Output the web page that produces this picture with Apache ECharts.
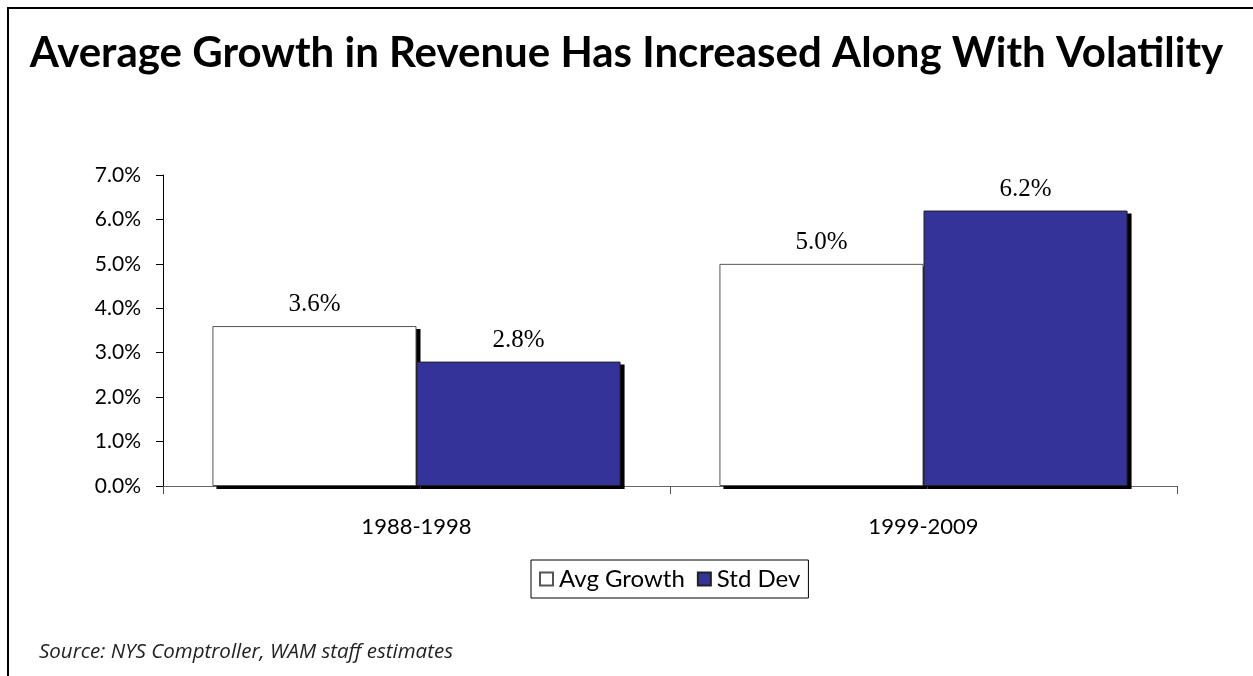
<!DOCTYPE html>
<html>
<head>
<meta charset="utf-8">
<script src="https://cdn.jsdelivr.net/npm/echarts@6/dist/echarts.min.js"></script>
<style>
  html, body { margin: 0; padding: 0; background: #fff; }
  #frame {
    position: absolute; left: 7px; top: 7px; width: 1246px; height: 669px;
    border-left: 2px solid #000; border-top: 2px solid #000; box-sizing: border-box;
  }
  #chart { position: absolute; left: 0; top: 0; width: 1253px; height: 676px; }
</style>
</head>
<body>
<div id="frame"></div>
<div id="chart"></div>
<script>
// Periods compared
const periods = ['1988-1998', '1999-2009'];
// Average annual revenue growth (%) per period
const avgGrowth = [3.6, 5.0];
// Standard deviation of growth (%) per period
const stdDev = [2.8, 6.2];
// Y axis range (%)
const yMin = 0, yMax = 7, yStep = 1;

const seriesNames = ['Avg Growth', 'Std Dev'];
const seriesValues = [avgGrowth, stdDev];
const categoryGap = 0.195;

const pct = v => v.toFixed(1) + '%';

// Drop-shadow rectangles placed behind each bar: [category, value, slot]
const shadowData = [];
seriesValues.forEach((vals, slot) => {
  vals.forEach((v, i) => shadowData.push([i, v, slot]));
});

const chart = echarts.init(document.getElementById('chart'), null, { renderer: 'canvas' });

const labelStyle = {
  show: true, position: 'top', distance: 9,
  formatter: p => pct(p.value),
  fontFamily: '"Liberation Serif"', fontSize: 25, color: '#000'
};

chart.setOption({
  backgroundColor: 'transparent',
  animation: false,
  title: {
    text: 'Average Growth in Revenue Has Increased Along With Volatility',
    left: 'center',
    top: 27,
    textStyle: { fontFamily: 'Lato', fontWeight: 'bold', fontSize: 42, color: '#000' }
  },
  graphic: [{
    type: 'text',
    left: 39,
    top: 642,
    style: {
      text: 'Source: NYS Comptroller, WAM staff estimates',
      font: 'italic 20.5px "Open Sans"',
      fill: '#222'
    }
  }],
  legend: {
    left: 531,
    top: 560,
    itemWidth: 13,
    itemHeight: 13,
    itemGap: 12,
    padding: [7, 8, 7, 8],
    borderColor: '#000',
    borderWidth: 1,
    borderRadius: 0,
    icon: 'rect',
    textStyle: { fontFamily: 'Lato', fontSize: 24, color: '#000', padding: [0, 0, 0, 1] },
    data: seriesNames
  },
  grid: { left: 163, right: 76, top: 175, bottom: 190, containLabel: false },
  xAxis: {
    type: 'category',
    data: periods,
    axisLine: { lineStyle: { color: '#666', width: 1 } },
    axisTick: { show: true, length: 8, lineStyle: { color: '#555' } },
    axisLabel: { margin: 30, fontFamily: 'Lato', fontSize: 22, color: '#000' }
  },
  yAxis: {
    type: 'value',
    min: yMin,
    max: yMax,
    interval: yStep,
    splitLine: { show: false },
    axisLine: { show: true, lineStyle: { color: '#000', width: 1 } },
    axisTick: { show: true, length: 7, lineStyle: { color: '#000' } },
    axisLabel: {
      margin: 22,
      formatter: v => pct(v),
      fontFamily: 'Lato',
      fontSize: 21,
      color: '#000',
      padding: [5, 0, 0, 0]
    }
  },
  series: [
    {
      name: 'shadow',
      type: 'custom',
      silent: true,
      z: 1,
      data: shadowData,
      renderItem: (params, api) => {
        const band = api.size([1, 0])[0];
        const barW = band * (1 - categoryGap) / 2;
        const base = api.coord([api.value(0), 0]);
        const top = api.coord([api.value(0), api.value(1)]);
        const x = base[0] - barW + api.value(2) * barW;
        return {
          type: 'rect',
          shape: { x: x + 4, y: top[1] + 3, width: barW, height: base[1] - top[1] },
          style: { fill: '#000' }
        };
      }
    },
    {
      name: seriesNames[0],
      type: 'bar',
      z: 3,
      data: avgGrowth,
      barGap: '0%',
      barCategoryGap: (categoryGap * 100) + '%',
      itemStyle: { color: '#fff', borderColor: '#555', borderWidth: 1 },
      label: labelStyle
    },
    {
      name: seriesNames[1],
      type: 'bar',
      z: 3,
      data: stdDev,
      itemStyle: { color: '#333399', borderColor: '#222', borderWidth: 1 },
      label: labelStyle
    }
  ]
});
</script>
</body>
</html>
